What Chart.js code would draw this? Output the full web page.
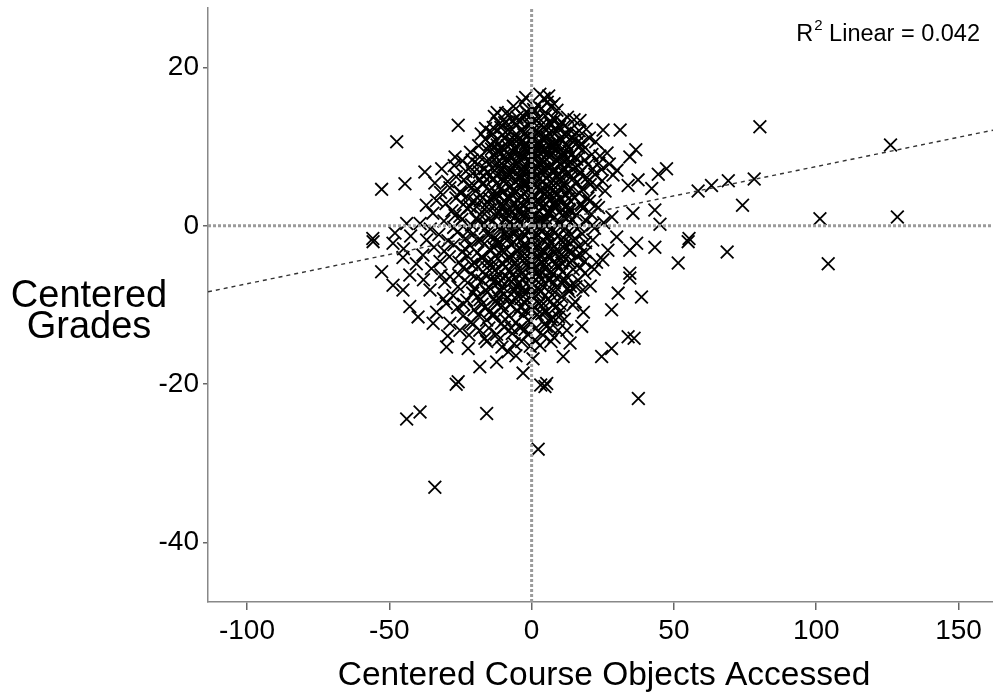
<!DOCTYPE html>
<html>
<head>
<meta charset="utf-8">
<script src="https://cdn.jsdelivr.net/npm/chart.js@4.4.0/dist/chart.umd.min.js"></script>
<style>
  html, body { margin: 0; padding: 0; background: #fff; }
  #wrap { width: 993px; height: 696px; position: relative; }
</style>
</head>
<body>
<div id="wrap"><canvas id="scatter"></canvas></div>
<script>
// Ejes y ticks
const xTickValues = [-100, -50, 0, 50, 100, 150];
const yTickValues = [-40, -20, 0, 20];
const xRange = [-113.7, 162.1];
const yRange = [-47.5, 27.5];

// Recta de ajuste
const fitSlope = 0.074;
const fitIntercept = 0.08;
const rSquared = '0.042';

// Puntos (centered course objects accessed, centered grades), agrupados por franja de y
const gradePoints = [
  // y 14 .. 17
  [6, 16.4], [5.5, 15.6], [6.8, 15], [1, 14.5], [-1.5, 14.2], [3.5, 14.8],
  // y 13 .. 14.5
  [-6.6, 13.3], [-1.8, 14.4], [2.5, 13.6], [4.8, 13.9], [8.2, 13.4], [10.5, 13.1], [17, 13.3], [-4.2, 13.1],
  [0.3, 13.2], [12.6, 13.7], [-9.5, 13.0], [6.5, 13.0], [80.2, 12.5],
  // y 11.5 .. 13
  [-10.8, 12.4], [-7.5, 11.9], [-3.4, 12.2], [-0.8, 12.6], [1.7, 12.0], [4.2, 12.4], [7.4, 11.8], [9.8, 12.5],
  [13.5, 12.1], [15.8, 11.7], [19.2, 12.2], [-13.6, 11.6], [3, 11.6], [-5.6, 12.7], [11.5, 11.6], [25.1, 12.1],
  [31.1, 12.1], [-25.8, 12.7],
  // y 10 .. 11.5
  [-47.4, 10.6], [-16.2, 10.9], [-12.1, 10.2], [-9.3, 11.1], [-6.8, 10.6], [-4.5, 11.0], [-2.2, 10.4], [0.4, 11.2],
  [2.6, 10.7], [5.1, 11.3], [7.9, 10.5], [10.2, 11.0], [12.4, 10.3], [14.8, 10.8], [17.5, 10.4], [20.3, 11.1],
  [-1, 10.1], [6.2, 10.2], [-14.5, 10.3], [22.5, 10.6], [126.1, 10.2],
  // y 8.5 .. 10
  [-18.2, 8.7], [-26.9, 8.7], [-21.5, 9.3], [-15.6, 9.6], [-13, 8.9], [-10.4, 9.8], [-8.1, 9.1], [-5.9, 9.7],
  [-3.6, 8.9], [-1.3, 9.5], [1.1, 9.0], [3.4, 9.8], [5.7, 9.2], [8.3, 9.6], [10.7, 8.8], [13.1, 9.4],
  [15.4, 8.7], [18.1, 9.6], [21.2, 9.0], [26.5, 9.2], [36.6, 9.6], [34.5, 8.7], [24, 8.8], [-7, 8.6],
  [0, 8.7], [7, 8.9], [-11.8, 9.3], [16.5, 9.9], [2.2, 9.4], [-2.9, 9.9],
  // y 7 .. 8.5
  [-31.6, 7.2], [-37.5, 6.8], [-21.7, 7.4], [-24.3, 8.2], [-19, 7.8], [-16.4, 7.2], [-14.1, 8.1], [-11.6, 7.5],
  [-9.2, 8.3], [-7.7, 7.1], [-5.3, 7.8], [-2.7, 7.3], [-0.6, 8.2], [1.9, 7.5], [4.3, 8.1], [6.6, 7.4],
  [9.2, 8.2], [11.4, 7.3], [13.9, 8.0], [16.2, 7.6], [18.7, 8.3], [21.5, 7.2], [23.6, 7.9], [30, 7.0],
  [47.4, 7.2], [-27.2, 7.6], [0.8, 7.0], [-4.1, 8.4], [8, 7.2], [12.5, 8.4], [-13, 7.0], [27.3, 7.8],
  // y 5.5 .. 7
  [-26.5, 6.2], [-23.8, 5.8], [-20.7, 6.6], [-18.3, 5.9], [-15.5, 6.7], [-13.4, 6.0], [-11, 6.9], [-8.6, 6.2],
  [-6.4, 6.8], [-4, 6.0], [-1.9, 6.6], [0.5, 6.0], [2.8, 6.8], [5.2, 6.1], [7.7, 6.7], [10, 5.9],
  [12.3, 6.6], [14.7, 6.0], [17.1, 6.8], [19.5, 6.1], [22.2, 6.5], [24.8, 5.7], [37.4, 5.8], [44.5, 6.5],
  [-34, 5.4], [-44.5, 5.3], [-29.5, 5.6], [-9.8, 5.6], [3.9, 5.5], [-2.8, 5.6], [8.9, 6.2], [15.9, 5.5],
  [-16.9, 6.3], [28.6, 6.4], [69.1, 5.7], [78.2, 5.9],
  // y 4 .. 5.5
  [-52.7, 4.6], [-28.7, 4.8], [-25.1, 4.3], [-22, 5.0], [-19.7, 4.4], [-17.2, 5.2], [-14.8, 4.5], [-12.3, 5.3],
  [-10.1, 4.2], [-7.4, 4.9], [-5.2, 4.3], [-3.1, 5.2], [-0.9, 4.6], [1.4, 5.3], [3.5, 4.4], [6, 5.0],
  [8.5, 4.3], [10.9, 5.1], [13.2, 4.5], [15.5, 5.3], [18, 4.6], [20.6, 5.2], [23, 4.9], [25.8, 4.4],
  [33.9, 5.1], [42.2, 4.7], [58.5, 4.4], [63.2, 5.1], [-32, 4.2], [-1.8, 5.4], [4.7, 4.0], [11.8, 4.0],
  [-8.8, 5.4], [16.8, 4.1],
  // y 2.5 .. 4
  [-33.4, 3.2], [-22.8, 3.7], [-30.1, 2.8], [-26.6, 3.5], [-24, 2.7], [-20.4, 3.2], [-17.9, 3.9], [-15.6, 2.9],
  [-13.2, 3.6], [-10.8, 2.7], [-8.4, 3.5], [-6.1, 2.8], [-3.8, 3.8], [-1.5, 3.0], [0.8, 3.7], [3.1, 2.9],
  [5.5, 3.6], [7.8, 2.7], [10.2, 3.4], [12.6, 2.6], [14.9, 3.6], [17.3, 2.8], [19.8, 3.5], [22.4, 2.6],
  [-12, 3.9], [2, 3.3], [-4.9, 2.5], [8.9, 3.9], [74.1, 2.6], [-37, 2.6],
  // y 1 .. 2.5
  [-19.3, 2.4], [-34.7, 1.6], [-28, 1.9], [-25.2, 1.2], [-22.6, 2.2], [-18.1, 1.4], [-15, 2.1], [-12.7, 1.3],
  [-10.3, 2.3], [-7.9, 1.5], [-5.6, 2.2], [-3.3, 1.2], [-1, 2.0], [1.3, 1.4], [3.6, 2.3], [6, 1.6],
  [8.3, 2.4], [10.7, 1.3], [13.1, 2.1], [15.6, 1.4], [18, 2.2], [20.9, 1.5], [23.5, 2.3], [28.2, 1.1],
  [35.6, 1.6], [43.3, 2.0], [-0.4, 1.1], [4.9, 1.0], [-9, 1.0], [11.9, 2.5],
  // y -0.5 .. 1
  [-43.9, 0.3], [-39.2, 0.3], [-30.8, 0.6], [-27.4, -0.2], [-24.5, 0.8], [-21.1, 0.1], [-18.6, 0.7], [-16.3, -0.3],
  [-13.9, 0.5], [-11.5, -0.1], [-9.2, 0.8], [-6.8, 0.0], [-4.5, 0.7], [-2.2, -0.4], [0.1, 0.4], [2.4, -0.1],
  [4.8, 0.6], [7.1, -0.3], [9.5, 0.5], [11.9, -0.2], [14.3, 0.7], [16.6, -0.1], [19.2, 0.6], [22.1, -0.3],
  [25.3, 0.4], [45.1, 0.2], [101.3, 0.9], [128.5, 1.1], [-35.6, -0.4], [3.5, 0.9], [-8, -0.5],
  // y -2 .. -0.5
  [-48, -0.9], [-55.8, -1.6], [-36.9, -1.8], [-32.6, -1.1], [-29.4, -1.9], [-26.1, -0.8], [-23.2, -1.6], [-20.5, -1.0],
  [-17.8, -1.8], [-15.4, -0.8], [-12.9, -1.5], [-10.6, -0.7], [-8.3, -1.7], [-5.9, -0.9], [-3.6, -1.8], [-1.2, -0.8],
  [1.1, -1.6], [3.4, -0.7], [5.8, -1.5], [8.2, -0.9], [10.5, -1.8], [12.9, -0.8], [15.2, -1.6], [17.8, -1.0],
  [21.5, -1.8], [29.9, -1.4], [55.3, -1.6], [55, -2.0], [36.9, -2.2], [-42.5, -1.3],
  // y -3.5 .. -2
  [-55.7, -2.0], [-48.7, -2.2], [-38.2, -3.7], [-34.3, -2.7], [-30.7, -3.2], [-27.3, -2.4], [-24.4, -3.3], [-21.6, -2.5],
  [-19.1, -3.4], [-16.7, -2.3], [-14.2, -3.1], [-11.9, -2.2], [-9.5, -3.3], [-7.2, -2.4], [-4.8, -3.2], [-2.5, -2.3],
  [-0.2, -3.4], [2.2, -2.5], [4.6, -3.3], [7, -2.2], [9.3, -3.2], [11.7, -2.4], [14, -3.4], [16.5, -2.6],
  [19, -3.3], [26.8, -3.1], [34.5, -3.1], [43.3, -2.7], [68.7, -3.3], [-45, -2.9],
  // y -5 .. -3.5
  [-45.2, -4.0], [-32.2, -4.5], [-28.9, -3.9], [-25.5, -4.6], [-22.6, -3.8], [-20, -4.7], [-17.5, -3.9], [-15.1, -4.5],
  [-12.7, -3.8], [-10.4, -4.7], [-8, -3.9], [-5.7, -4.6], [-3.3, -3.8], [-1, -4.7], [1.4, -3.9], [3.8, -4.6],
  [6.2, -3.8], [8.6, -4.7], [11, -3.9], [13.4, -4.6], [15.9, -3.8], [18.6, -4.5], [25, -4.3], [51.5, -4.7],
  [104.2, -4.8], [-40.5, -4.8], [0.3, -5.0],
  // y -6.5 .. -5
  [-52.7, -5.8], [-42.8, -6.2], [-28.7, -6.4], [-35.2, -5.4], [-24.1, -5.3], [-21.3, -6.1], [-18.8, -5.2], [-16.3, -6.2],
  [-13.9, -5.3], [-11.5, -6.1], [-9.2, -5.2], [-6.8, -6.2], [-4.4, -5.4], [-2.1, -6.3], [0.3, -5.5], [2.7, -6.3],
  [5, -5.3], [7.4, -6.1], [9.8, -5.2], [12.2, -6.3], [14.6, -5.5], [18.7, -6.0], [34.5, -6.0], [34.5, -6.6],
  [22, -5.5], [-31.8, -6.2],
  // y -8 .. -6.5
  [-48.7, -7.5], [-25.9, -7.7], [-30.5, -7.1], [-22.5, -7.2], [-19.8, -7.9], [-17.4, -6.9], [-14.9, -7.8], [-12.6, -6.8],
  [-10.2, -7.7], [-7.9, -6.7], [-5.5, -7.6], [-3.2, -6.7], [-0.8, -7.8], [1.5, -6.8], [3.9, -7.6], [6.3, -6.7],
  [8.6, -7.8], [11, -6.9], [13.6, -7.6], [16.4, -6.9], [-38, -6.8],
  // y -9.5 .. -8
  [-45.2, -8.1], [-35.7, -8.1], [-22.8, -9.4], [-27.6, -8.8], [-20.7, -8.5], [-18.1, -9.3], [-15.6, -8.4], [-13.2, -9.2],
  [-10.9, -8.3], [-8.5, -9.1], [-6.2, -8.2], [-3.8, -9.2], [-1.5, -8.3], [0.9, -9.1], [3.3, -8.2], [5.7, -9.3],
  [8.1, -8.4], [10.6, -9.0], [13.2, -8.3], [18, -8.1], [30.4, -8.5], [38.6, -9.0], [-31, -9.2],
  // y -11 .. -9.5
  [-42.8, -10.2], [-33.4, -10.9], [-26, -10.3], [-20.2, -10.6], [-17.4, -9.9], [-14.6, -10.8], [-12.1, -9.8], [-9.7, -10.7],
  [-7.3, -9.9], [-4.9, -10.8], [-2.4, -9.7], [0, -10.6], [2.5, -9.8], [4.9, -10.9], [7.5, -10], [10.3, -10.7],
  [14.5, -10], [28.1, -10.6], [-30, -9.8],
  // y -12.5 .. -11
  [-39.9, -11.5], [-28.7, -12.3], [-24.1, -11.4], [-21.4, -12.2], [-18.7, -11.3], [-15.8, -11.9], [-13.1, -11.2], [-10.6, -12.3],
  [-8, -11.4], [-5.5, -12.2], [-3, -11.3], [-0.5, -12.1], [2, -11.2], [4.6, -12.4], [7.3, -11.5], [11.5, -11.8],
  [17.6, -12.7], [-34.6, -12.3],
  // y -14 .. -12.5
  [-25.2, -13.2], [-18.2, -13.2], [-22, -13.8], [-15, -12.9], [-12.3, -13.7], [-9.6, -12.8], [-6.8, -13.6], [-4, -12.9],
  [-1.4, -13.7], [1.3, -13], [4, -13.8], [6.5, -12.9], [9.3, -13.2], [33.9, -14.0], [-29.5, -13.9],
  // y -15.5 .. -14
  [-29.9, -15.3], [-22.3, -15.5], [-15.8, -14.6], [-8.2, -15.9], [-3.5, -14.6], [2.9, -15.1], [13.5, -14.8], [-11.5, -14.4],
  [-0.5, -15.2], [6.8, -14.6], [28.1, -15.5], [36, -14.2],
  // y < -15.5
  [-18.2, -17.8], [-12.3, -17.2], [-25.8, -19.7], [-3, -18.6], [11.1, -16.5], [24.6, -16.5], [5.3, -19.9], [4.7, -20.3],
  [-43.9, -24.4], [-39.2, -23.5], [-15.8, -23.7], [-34, -33], [2.3, -28.2], [37.5, -21.8], [-5.5, -16.4], [0.5, -16.8],
  [-26.5, -20], [3.2, -20.1]
];

// Núcleo denso del centro (zona casi negra del gráfico)
const gradePointsCore = [
  [-14.3, 11.8], [-11.2, 12.9], [-8.6, 10.1], [-5.1, 13.7], [-2.7, 11.5], [0.9, 12.3], [3.8, 10.9], [6.9, 12.8],
  [9.1, 10.4], [11.6, 12.6], [14.1, 11.2], [-15.7, 8.2], [-12.5, 10.8], [-9.9, 7.6], [-6.3, 9.3], [-3.9, 10.6],
  [-0.2, 8.1], [2.3, 11.8], [4.6, 8.6], [7.6, 10.2], [10.2, 7.7], [12.8, 9.9], [15.9, 8.4], [-17.1, 5.4],
  [-13.8, 7.3], [-10.7, 4.7], [-7.2, 8.8], [-4.7, 5.2], [-1.6, 7.1], [1.6, 4.8], [4.1, 6.9], [6.4, 4.1],
  [9.6, 6.5], [12.1, 3.9], [14.5, 7.1], [-16.6, 2.1], [-12.9, 4.4], [-9.4, 1.7], [-6.9, 3.9], [-3.3, 2.6],
  [-0.7, 5.7], [2.9, 1.8], [5.3, 4.3], [8.1, 1.1], [10.8, 4.7], [13.4, 1.9], [-15.2, -1.2], [-11.8, 1.5],
  [-8.7, -0.8], [-5.5, 1.2], [-2.4, -1.1], [0.4, 2.7], [3.7, -0.6], [6.6, 2.1], [9.2, -1.3], [12.3, 0.9],
  [16.1, -0.4], [-17.4, -4.1], [-13.6, -2.6], [-10.1, -4.9], [-6.4, -2.0], [-3.1, -4.4], [-0.5, -1.9], [2.6, -4.2],
  [5.7, -2.3], [8.8, -5.1], [11.4, -2.8], [14.2, -4.4], [-14.4, -6.7], [-11.2, -8.1], [-7.8, -5.6], [-4.6, -7.4],
  [-1.3, -5.2], [1.9, -7.9], [4.5, -5.4], [7.9, -7.2], [10.9, -5.8], [-19.2, -6.6], [-12.8, -9.6], [-9.3, -11.8],
  [-5.9, -9.1], [-2.2, -10.7], [0.8, -8.6], [3.6, -11.1], [6.7, -9.5], [9.5, -11.5], [-16.5, -10.3],
  [-13.1, 13.8], [-7.8, 14.1], [-3.2, 15.6], [2.1, 15.2], [8.9, 14.6], [4.4, 16.1], [-0.4, 13.9],
  [-18.6, 10.1], [-10.2, 11.5], [-4.6, 9.0], [1.5, 9.9], [6.1, 11.7], [11.1, 9.2], [16.7, 12.0],
  [-20.3, 5.1], [-14.7, 3.4], [-8.1, 6.4], [-2.1, 4.3], [3.1, 7.6], [8.6, 5.4], [13.9, 6.3], [19.8, 7.7],
  [-22.4, -0.7], [-16.9, 0.4], [-10.9, -2.1], [-4.1, 0.3], [1.9, 0.6], [7.8, -3.4], [14.8, -1.9], [20.3, 3.1],
  [-21.1, -4.9], [-15.7, -5.3], [-9.1, -6.4], [-2.9, -8.4], [2.4, -2.9], [6.2, -6.9], [12.7, -7.9], [17.1, -5.3],
  [-18.9, -8.9], [-13.9, -11.3], [-7.1, -12.9], [-1.1, -11.9], [5.2, -12.7], [9.9, -9.8], [15.3, -9.6],
  [-20.6, -12.4], [-16.4, -14.2], [-10.4, -15.3], [-6.1, -14.9], [1.2, -14.4], [7.9, -14.1], [12.4, -13.2],
  [-12.2, 6.3], [-9.6, 3.2], [-7.5, 0.5], [-5.2, -3.1], [-3.6, -6.1], [-1.9, 9.8], [-0.9, 6.9], [0.6, 3.9],
  [1.4, -0.9], [2.2, -5.9], [3.3, 12.7], [4.9, 9.6], [5.9, 7.3], [7.2, 5.9], [8.3, 3.1], [9.8, 0.3],
  [10.6, -3.6], [11.9, -6.9], [-11.7, 9.6], [-10.3, -10.1], [-8.3, 12.1], [-6.7, 4.4], [-4.4, 1.9], [-2.6, -2.8],
  [0.2, -6.4], [2.7, -9.8], [4.3, 2.4], [6.8, -0.4], [8.4, 9.8], [12.9, 3.4], [-14.8, 0.9], [-13.3, -4.6],
  [-12.1, -7.3], [-6.1, 10.9], [-3.9, 7.1], [-1.4, 11.3], [0.7, 14.7], [2.6, 5.9], [3.9, -1.8], [5.6, -3.8],
  [6.9, -11.9], [7.5, 13.6], [9.9, 5.9], [11.3, 8.1], [13.6, -2.2], [-9.1, 14.2], [-5.8, -0.6], [-2.3, -13.1],
  [0.3, -3.1], [1.1, 9.3], [-18.1, 3.2], [-19.6, 0.9], [-21.6, 2.4], [-23.4, -2.9], [-24.9, 4.1], [-20.9, 8.3],
  [-17.7, 11.6], [-23.1, 6.9], [17.6, 2.6], [18.9, -2.1], [19.9, 5.6], [16.3, 10.6], [21.4, 0.1], [22.8, -4.6],
  [20.6, -7.6], [18.2, -10.9], [-25.6, -6.2], [-23.9, -9.9], [-26.9, 1.3], [24.6, 7.1],
  [-13.5, 12.4], [-10.9, 9.1], [-8.9, 13.1], [-7.1, 10.4], [-5.4, 11.6], [-3.1, 13.9], [-1.2, 12.8], [0.1, 10.9],
  [1.8, 13.3], [3.6, 9.4], [5.3, 12.1], [7.1, 9.9], [8.8, 11.9], [10.4, 9.6], [12.2, 11.3], [13.8, 8.9],
  [-14.1, 9.7], [-11.9, 7.9], [-9.7, 8.9], [-7.9, 6.7], [-5.9, 8.1], [-4.3, 6.4], [-2.4, 8.6], [-0.4, 9.6],
  [1.3, 8.4], [2.9, 10.2], [4.4, 7.3], [6.2, 8.7], [7.4, 6.9], [9.1, 8.6], [10.9, 6.8], [12.7, 7.8],
  [-13.7, 5.8], [-11.4, 3.8], [-9.2, 5.9], [-7.6, 3.4], [-5.7, 5.6], [-3.7, 3.7], [-1.9, 5.1], [-0.1, 3.1],
  [1.7, 6.4], [3.2, 4.6], [4.9, 2.8], [6.8, 5.4], [8.6, 3.9], [10.4, 5.6], [11.9, 2.3], [13.6, 4.8],
  [-13.1, 2.4], [-11.1, -0.4], [-9.9, 2.6], [-7.4, 2.1], [-5.1, -0.2], [-3.4, 1.6], [-1.4, 3.6], [0.8, 1.2],
  [2.1, 2.9], [3.9, 0.4], [5.6, 1.7], [7.4, 0.9], [9.2, 2.5], [11.2, -0.6], [12.8, 1.4],
  [-12.4, -1.9], [-10.4, -3.2], [-8.6, -1.3], [-6.7, -3.8], [-4.9, -1.6], [-3.1, -3.3], [-1.1, -0.5], [0.6, -2.4],
  [2.4, -1.2], [4.2, -3.1], [6.1, -1.1], [7.9, -2.6], [9.7, -3.9], [11.8, -1.8], [13.1, -3.3],
  [-12.9, -5.6], [-10.8, -6.9], [-8.9, -4.3], [-7.2, -7.1], [-5.3, -5.1], [-3.4, -7.9], [-1.7, -4.9], [0.1, -7.3],
  [1.7, -5.2], [3.4, -6.8], [5.1, -4.6], [6.9, -5.8], [8.7, -6.6], [10.6, -4.7],
  [-11.6, -9.1], [-9.6, -8.6], [-7.6, -9.9], [-5.6, -8.1], [-3.9, -10.3], [-1.9, -9.3], [0.3, -10.1], [2.3, -8.6],
  [4.1, -9.8], [6.1, -8.3], [8.3, -10.3],
  [-12.1, 14.3], [-6.4, 15.1], [-2.1, 16.2], [2.9, 16.6], [7.9, 15.4], [-16.2, 12.3], [14.9, 13.4], [-18.3, 6.8],
  [16.9, 6.6], [-18.9, -1.9], [17.2, -3.6], [-16.1, -8.1], [15.6, -7.7],
  [-4.6, 3.2], [-2.9, 6.9], [1.1, 6.1], [2.7, 8.1], [-6.1, 7.6], [-8.4, 10.6], [-0.8, -4.1], [3.1, -3.6],
  [-5.9, -6.6], [4.7, 11.1], [-1.8, 1.3], [0.9, -1.2]
];

const FONT = '"Liberation Sans", Arial, Helvetica, sans-serif';

// Textos: títulos de ejes y etiqueta de R²
const textosPlugin = {
  id: 'textos',
  afterDraw(chart) {
    const ctx = chart.ctx;
    ctx.save();
    ctx.fillStyle = '#000';
    ctx.textBaseline = 'middle';
    ctx.textAlign = 'center';
    ctx.font = '33.5px ' + FONT;
    ctx.fillText('Centered Course Objects Accessed', 604, 676);
    ctx.font = '38px ' + FONT;
    ctx.fillText('Centered', 89, 297);
    ctx.fillText('Grades', 89, 328);

    // R² Linear = 0.042, alineado a la derecha
    ctx.textBaseline = 'alphabetic';
    ctx.textAlign = 'left';
    const main = ' Linear = ' + rSquared;
    ctx.font = '23.5px ' + FONT;
    const wR = ctx.measureText('R').width;
    const wMain = ctx.measureText(main).width;
    ctx.font = '15px ' + FONT;
    const wSup = ctx.measureText('2').width;
    let x = 979 - (wR + wSup + wMain);
    const base = 41;
    ctx.font = '23.5px ' + FONT;
    ctx.fillText('R', x, base);
    x += wR + 1;
    ctx.font = '15px ' + FONT;
    ctx.fillText('2', x, base - 11);
    x += wSup;
    ctx.font = '23.5px ' + FONT;
    ctx.fillText(main, x, base);
    ctx.restore();
  }
};

const ctx = document.getElementById('scatter').getContext('2d');
new Chart(ctx, {
  type: 'scatter',
  data: {
    datasets: [
      {
        // líneas de referencia en 0
        type: 'line',
        data: [{ x: 0, y: yRange[0] }, { x: 0, y: yRange[1] }],
        borderColor: '#9b9b9b',
        borderWidth: 3,
        borderDash: [3, 2],
        pointRadius: 0,
        order: 0
      },
      {
        type: 'line',
        data: [{ x: xRange[0], y: 0 }, { x: xRange[1], y: 0 }],
        borderColor: '#9b9b9b',
        borderWidth: 3,
        borderDash: [3, 2],
        pointRadius: 0,
        order: 0
      },
      {
        // recta de ajuste lineal
        type: 'line',
        data: [
          { x: xRange[0], y: fitIntercept + fitSlope * xRange[0] },
          { x: xRange[1], y: fitIntercept + fitSlope * xRange[1] }
        ],
        borderColor: '#333',
        borderWidth: 1.4,
        borderDash: [4, 4],
        pointRadius: 0,
        order: 1
      },
      {
        data: gradePoints.concat(gradePointsCore).map(p => ({ x: p[0], y: p[1] })),
        pointStyle: 'crossRot',
        pointRadius: 9,
        pointBorderWidth: 1.8,
        borderColor: '#000',
        backgroundColor: '#000',
        order: 2
      }
    ]
  },
  options: {
    responsive: true,
    maintainAspectRatio: false,
    animation: false,
    layout: { autoPadding: false, padding: { top: 8, right: 0, bottom: 0, left: 0 } },
    plugins: {
      legend: { display: false },
      tooltip: { enabled: false }
    },
    scales: {
      x: {
        type: 'linear',
        min: xRange[0],
        max: xRange[1],
        afterBuildTicks: s => { s.ticks = xTickValues.map(v => ({ value: v })); },
        afterFit: s => { s.height = 94; s.paddingLeft = 0; s.paddingRight = 0; },
        grid: { drawOnChartArea: false, drawTicks: true, tickLength: 8, color: '#666', tickColor: '#666', lineWidth: 1.5 },
        border: { color: '#888', width: 1.5 },
        ticks: { color: '#000', font: { size: 28, family: FONT }, padding: 4, maxRotation: 0 }
      },
      y: {
        type: 'linear',
        min: yRange[0],
        max: yRange[1],
        afterBuildTicks: s => { s.ticks = yTickValues.map(v => ({ value: v })); },
        afterFit: s => { s.width = 208; s.paddingTop = 0; s.paddingBottom = 0; },
        grid: { drawOnChartArea: false, drawTicks: true, tickLength: 5, color: '#666', tickColor: '#666', lineWidth: 1.5 },
        border: { color: '#888', width: 1.5 },
        ticks: { color: '#000', font: { size: 28, family: FONT }, padding: 4 }
      }
    }
  },
  plugins: [textosPlugin]
});
</script>
</body>
</html>
